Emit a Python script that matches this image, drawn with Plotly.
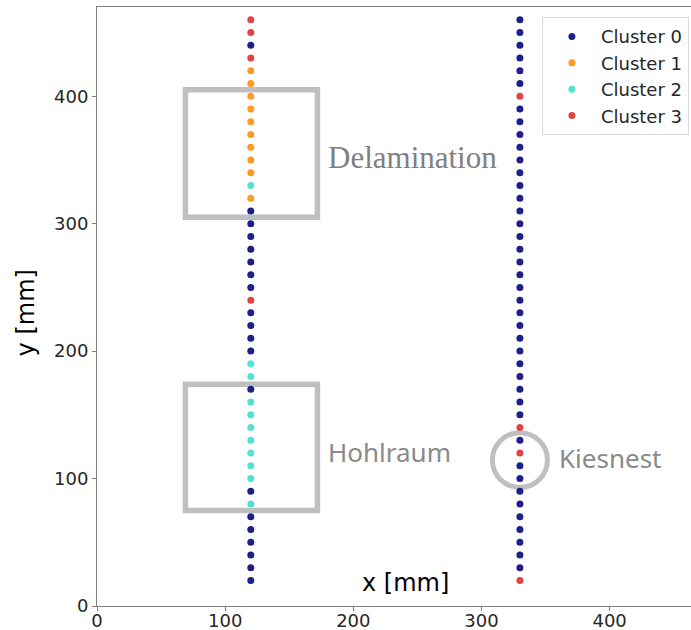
import plotly.graph_objects as go

# ---- data ----
y_mm = [460, 450, 440, 430, 420, 410, 400, 390, 380, 370, 360, 350, 340, 330, 320,
        310, 300, 290, 280, 270, 260, 250, 240, 230, 220, 210, 200, 190, 180, 170,
        160, 150, 140, 130, 120, 110, 100, 90, 80, 70, 60, 50, 40, 30, 20]
x_left = 120
x_right = 330
labels_left = [3, 3, 0, 3, 1, 1, 1, 1, 1, 1, 1, 1, 1, 2, 1,
               0, 0, 0, 0, 0, 0, 0, 3, 0, 0, 0, 0, 2, 2, 0,
               2, 2, 2, 2, 2, 2, 2, 0, 2, 0, 0, 0, 0, 0, 0]
labels_right = [0, 0, 0, 0, 0, 0, 3, 0, 0, 0, 0, 0, 0, 0, 0,
                0, 0, 0, 0, 0, 0, 0, 0, 0, 0, 0, 0, 0, 0, 0,
                0, 0, 3, 0, 3, 0, 0, 0, 0, 0, 0, 0, 0, 0, 3]
cluster_names = ["Cluster 0", "Cluster 1", "Cluster 2", "Cluster 3"]
cluster_colors = ["#1f1f8c", "#ff9a22", "#55e0d2", "#e04444"]
x_ticks = [0, 100, 200, 300, 400]
y_ticks = [0, 100, 200, 300, 400]

# annotation regions (data coords)
delam_box = dict(x0=69, x1=172, y0=305, y1=405)
hohl_box = dict(x0=69, x1=172, y0=75, y1=174)
kies_circle = dict(x0=308.5, x1=351.5, y0=93, y1=136)

fig = go.Figure()
xs = [x_left] * len(y_mm) + [x_right] * len(y_mm)
ys = y_mm + y_mm
labs = labels_left + labels_right
for k, name in enumerate(cluster_names):
    px = [x for x, l in zip(xs, labs) if l == k]
    py = [y for y, l in zip(ys, labs) if l == k]
    fig.add_trace(go.Scatter(
        x=px, y=py, mode="markers", name=name,
        marker=dict(size=7, color=cluster_colors[k], line=dict(width=0)),
    ))

grey = "#bfbfbf"
fig.add_shape(type="rect", xref="x", yref="y", layer="below",
              line=dict(color=grey, width=5.5), **delam_box)
fig.add_shape(type="rect", xref="x", yref="y", layer="below",
              line=dict(color=grey, width=5.5), **hohl_box)
fig.add_shape(type="circle", xref="x", yref="y", layer="below",
              line=dict(color=grey, width=5), **kies_circle)

fig.add_annotation(x=178.5, y=352, xref="x", yref="y", text="Delamination",
                   showarrow=False, xanchor="left", yanchor="middle",
                   font=dict(family="Liberation Serif", size=31, color="#808080"))
fig.add_annotation(x=178.5, y=121, xref="x", yref="y", text="Hohlraum",
                   showarrow=False, xanchor="left", yanchor="middle",
                   font=dict(family="Noto Sans", size=26, color="#8a8a8a"))
fig.add_annotation(x=359, y=116, xref="x", yref="y", text="Kiesnest",
                   showarrow=False, xanchor="left", yanchor="middle",
                   font=dict(family="Noto Sans", size=26, color="#8a8a8a"))

# axis titles
fig.add_annotation(x=241, y=18, xref="x", yref="y", text="x [mm]",
                   showarrow=False, xanchor="center", yanchor="middle",
                   font=dict(family="DejaVu Sans", size=24, color="#000000"))
fig.add_annotation(x=-0.118, y=0.49, xref="paper", yref="paper", text="y [mm]",
                   showarrow=False, textangle=-90, xanchor="center", yanchor="middle",
                   font=dict(family="DejaVu Sans", size=24, color="#000000"))

fig.update_layout(
    width=691, height=630,
    margin=dict(l=97, r=0, t=7, b=24, autoexpand=False),
    paper_bgcolor="white", plot_bgcolor="white",
    font=dict(family="DejaVu Sans", size=18, color="#262626"),
    showlegend=True,
    legend=dict(x=0.749, y=0.983, xanchor="left", yanchor="top",
                bgcolor="rgba(255,255,255,0.9)", bordercolor="#d9d9d9", borderwidth=1,
                font=dict(family="DejaVu Sans", size=18, color="#262626"),
                itemwidth=48, tracegroupgap=0),
)
fig.update_xaxes(range=[0, 463.5], tickvals=x_ticks, showgrid=False, zeroline=False,
                 automargin=False,
                 showline=True, linecolor="#808080", linewidth=1, mirror=True,
                 ticks="outside", ticklen=4, tickcolor="#808080", ticklabelstandoff=-6,
                 tickfont=dict(family="DejaVu Sans", size=18, color="#262626"))
fig.update_yaxes(range=[0, 470], tickvals=y_ticks, showgrid=False, zeroline=False,
                 automargin=False,
                 showline=True, linecolor="#808080", linewidth=1, mirror=False,
                 ticks="outside", ticklen=4, tickcolor="#808080",
                 tickfont=dict(family="DejaVu Sans", size=18, color="#262626"))

fig.write_html("out.html", config={"displayModeBar": False},
               post_script="document.body.style.margin='0';document.body.style.overflow='hidden';")
